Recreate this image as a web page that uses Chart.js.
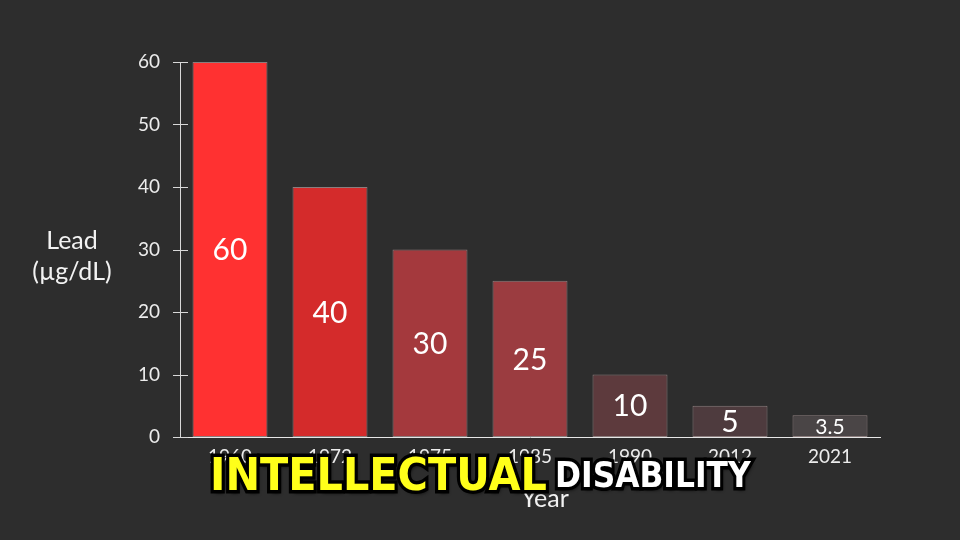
<!DOCTYPE html>
<html>
<head>
<meta charset="utf-8">
<script src="https://cdn.jsdelivr.net/npm/chart.js@4"></script>
<style>
  html, body { margin: 0; padding: 0; background: #2d2d2d; }
  #wrap { position: relative; width: 960px; height: 540px; overflow: hidden; }
  canvas { position: absolute; left: 0; top: 0; }
  .label { position: absolute; color: #f2f2f2; font-family: Lato, 'Open Sans', sans-serif; font-size: 25px; text-align: center; line-height: 31px; }
  .cap {
    position: absolute; line-height: 1; white-space: nowrap;
    font-family: 'DejaVu Sans', sans-serif; font-weight: bold;
    transform-origin: 0 0;
    -webkit-text-stroke: 7px #000; paint-order: stroke fill;
    text-shadow: 2px 3px 4px rgba(0,0,0,0.85);
  }
  #cap1 { left: 210px; top: 452px; font-size: 45px; color: #ffff1a; transform: scaleX(0.92); }
  #cap2 { left: 555px; top: 457px; font-size: 36px; color: #ffffff; transform: scaleX(0.87); }
</style>
</head>
<body>
<div id="wrap">
  <canvas id="chart" width="960" height="540"></canvas>
  <div class="label" style="left:12px; top:224px; width:120px;">Lead<br>(µg/dL)</div>
  <div class="label" style="left:495px; top:482px; width:100px;">Year</div>
  <div class="cap" id="cap1">INTELLECTUAL</div>
  <div class="cap" id="cap2">DISABILITY</div>
</div>
<script>
// 연도별 혈중 납 기준치
const years = ['1960', '1972', '1975', '1985', '1990', '2012', '2021'];
const leadLevels = [60, 40, 30, 25, 10, 5, 3.5];
const barColors = ['#ff3131', '#d42b2b', '#a4393d', '#9b3c40', '#5d3a3d', '#4e3b3e', '#4a4546'];
const yTicks = [0, 10, 20, 30, 40, 50, 60];

// 막대 안에 값 표시
const valueLabels = {
    id: 'valueLabels',
    afterDatasetsDraw(chart) {
        const ctx = chart.ctx;
        const meta = chart.getDatasetMeta(0);
        ctx.save();
        ctx.fillStyle = '#ffffff';
        ctx.textAlign = 'center';
        ctx.textBaseline = 'middle';
        meta.data.forEach((bar, i) => {
            const v = leadLevels[i];
            const size = v < 5 ? 21 : 30;
            ctx.font = size + 'px Lato, "Open Sans", sans-serif';
            ctx.fillText(String(v), bar.x, (bar.y + bar.base) / 2 + 1);
        });
        ctx.restore();
    }
};

// y축 눈금 표시 (축선을 가로지르는 짧은 선)
const yTickMarks = {
    id: 'yTickMarks',
    afterDraw(chart) {
        const ctx = chart.ctx;
        const y = chart.scales.y;
        const x0 = chart.chartArea.left;
        ctx.save();
        ctx.strokeStyle = '#d8d8d8';
        ctx.lineWidth = 1;
        yTicks.forEach(t => {
            const py = Math.round(y.getPixelForValue(t)) + 0.5;
            ctx.beginPath();
            ctx.moveTo(x0 - 7, py);
            ctx.lineTo(x0 + 8, py);
            ctx.stroke();
        });
        ctx.restore();
    }
};

const ctx = document.getElementById('chart').getContext('2d');
new Chart(ctx, {
    type: 'bar',
    data: {
        labels: years,
        datasets: [{
            data: leadLevels,
            backgroundColor: barColors,
            borderColor: 'rgba(255,225,225,0.45)',
            borderWidth: 1,
            borderSkipped: false,
            barPercentage: 0.75,
            categoryPercentage: 1.0
        }]
    },
    options: {
        responsive: false,
        animation: false,
        devicePixelRatio: 1,
        layout: { padding: { top: 62, right: 80, left: 0, bottom: 0 } },
        plugins: {
            legend: { display: false },
            tooltip: { enabled: false }
        },
        scales: {
            x: {
                grid: { display: false, drawTicks: false },
                border: { display: true, color: '#e6e6e6', width: 1 },
                ticks: {
                    color: '#ececec',
                    font: { family: 'Lato, "Open Sans", sans-serif', size: 19 },
                    padding: 8
                },
                afterFit(scale) { scale.height = 103; }
            },
            y: {
                min: 0,
                max: 60,
                grid: { display: false, drawTicks: false },
                border: { display: true, color: '#d8d8d8', width: 1 },
                ticks: {
                    stepSize: 10,
                    color: '#ececec',
                    font: { family: 'Lato, "Open Sans", sans-serif', size: 19 },
                    padding: 20
                },
                afterFit(scale) { scale.width = 180; }
            }
        }
    },
    plugins: [valueLabels, yTickMarks]
});
</script>
</body>
</html>
